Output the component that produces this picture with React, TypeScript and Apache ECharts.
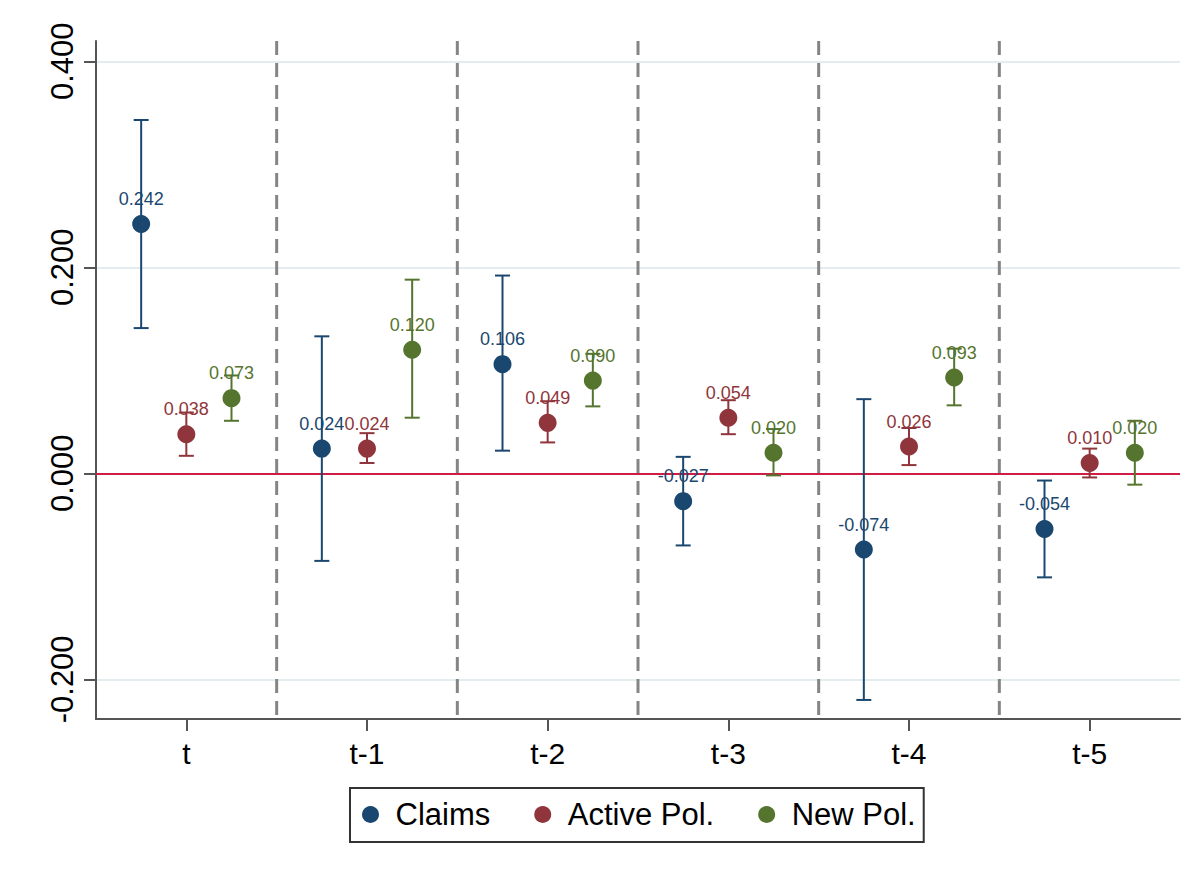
import React, { useEffect, useRef } from "react";
import * as echarts from "echarts";

const categories = ["t", "t-1", "t-2", "t-3", "t-4", "t-5"];
const yTicks = [-0.2, 0, 0.2, 0.4];

const claims = [0.242, 0.024, 0.106, -0.027, -0.074, -0.054];
const claimsLo = [0.141, -0.085, 0.022, -0.07, -0.22, -0.101];
const claimsHi = [0.343, 0.133, 0.192, 0.016, 0.072, -0.007];

const active = [0.038, 0.024, 0.049, 0.054, 0.026, 0.01];
const activeLo = [0.017, 0.01, 0.03, 0.038, 0.008, -0.004];
const activeHi = [0.059, 0.039, 0.07, 0.071, 0.044, 0.024];

const newPol = [0.073, 0.12, 0.09, 0.02, 0.093, 0.02];
const newLo = [0.051, 0.054, 0.065, -0.002, 0.066, -0.011];
const newHi = [0.095, 0.188, 0.116, 0.043, 0.121, 0.051];

const groups = [
  { name: "Claims", color: "#1a476f", offset: -0.25, v: claims, lo: claimsLo, hi: claimsHi },
  { name: "Active Pol.", color: "#90353b", offset: 0, v: active, lo: activeLo, hi: activeHi },
  { name: "New Pol.", color: "#55752f", offset: 0.25, v: newPol, lo: newLo, hi: newHi },
];

const FONT = "'Liberation Sans', Arial, sans-serif";

export default function App() {
  const ref = useRef<HTMLDivElement>(null);
  useEffect(() => {
    if (!ref.current) return;
    const chart = echarts.init(ref.current, undefined, { renderer: "svg" });

    const series: any[] = [];

    // dividers between categories
    series.push({
      type: "custom",
      name: "dividers",
      xAxisIndex: 1,
      z: 1,
      silent: true,
      data: categories.slice(1).map((_, i) => [i + 0.5, 0]),
      encode: { x: 0, y: 1 },
      renderItem: (params: any, api: any) => {
        const cs = params.coordSys;
        const x = api.coord([api.value(0), 0])[0];
        return {
          type: "line",
          shape: { x1: x, y1: cs.y, x2: x, y2: cs.y + cs.height },
          style: { stroke: "#858585", lineWidth: 3, lineDash: [14, 8] },
        };
      },
    });

    groups.forEach((g) => {
      series.push({
        type: "custom",
        name: g.name + " CI",
        xAxisIndex: 1,
        z: 3,
        silent: true,
        data: g.v.map((_, i) => [i + g.offset, g.lo[i], g.hi[i]]),
        encode: { x: 0, y: [1, 2] },
        renderItem: (params: any, api: any) => {
          const x = api.value(0);
          const pLo = api.coord([x, api.value(1)]);
          const pHi = api.coord([x, api.value(2)]);
          const hw = 7.5;
          const style = { stroke: g.color, lineWidth: 2 };
          return {
            type: "group",
            children: [
              { type: "line", shape: { x1: pLo[0], y1: pLo[1], x2: pHi[0], y2: pHi[1] }, style },
              { type: "line", shape: { x1: pHi[0] - hw, y1: pHi[1], x2: pHi[0] + hw, y2: pHi[1] }, style },
              { type: "line", shape: { x1: pLo[0] - hw, y1: pLo[1], x2: pLo[0] + hw, y2: pLo[1] }, style },
            ],
          };
        },
      });
    });

    groups.forEach((g, gi) => {
      const s: any = {
        type: "scatter",
        name: g.name,
        xAxisIndex: 1,
        z: 4,
        symbol: "circle",
        symbolSize: 18,
        itemStyle: { color: g.color, opacity: 1 },
        data: g.v.map((v, i) => [i + g.offset, v]),
        label: {
          show: true,
          position: "top",
          distance: 7,
          fontFamily: FONT,
          fontSize: 18,
          color: g.color,
          formatter: (p: any) => p.value[1].toFixed(3),
        },
      };
      if (gi === 0) {
        s.markLine = {
          silent: true,
          symbol: "none",
          label: { show: false },
          lineStyle: { color: "#d01c44", width: 2, type: "solid" },
          data: [{ yAxis: 0 }],
          z: 2,
        };
      }
      series.push(s);
    });

    chart.setOption({
      animation: false,
      backgroundColor: "#ffffff",
      grid: { left: 96, right: 23, top: 41, bottom: 159, containLabel: false },
      xAxis: [
        {
          type: "category",
          data: categories,
          boundaryGap: true,
          axisLine: { show: true, onZero: false, lineStyle: { color: "#555555", width: 2 } },
          axisTick: { show: true, alignWithLabel: true, length: 12, lineStyle: { color: "#555555", width: 2 } },
          axisLabel: { fontFamily: FONT, fontSize: 30, color: "#000000", margin: 19 },
          splitLine: { show: false },
        },
        {
          type: "value",
          min: -0.5,
          max: 5.5,
          show: false,
          axisLine: { onZero: false },
          splitLine: { show: false },
        },
      ],
      yAxis: {
        type: "value",
        min: -0.2385,
        max: 0.4197,
        axisLine: { show: true, onZero: false, lineStyle: { color: "#555555", width: 2 } },
        axisTick: { show: true, length: 12, customValues: yTicks, lineStyle: { color: "#555555", width: 2 } },
        axisLabel: {
          customValues: yTicks,
          rotate: 90,
          fontFamily: FONT,
          fontSize: 31,
          color: "#000000",
          margin: 18,
          formatter: (v: number) => v.toFixed(3),
        },
        splitLine: { show: true, lineStyle: { color: "#e3ecee", width: 2 } },
      },
      legend: {
        data: groups.map((g) => g.name),
        left: 350,
        top: 788,
        orient: "horizontal",
        icon: "circle",
        itemWidth: 40,
        itemHeight: 17,
        itemGap: 44,
        padding: [11, 8, 12, 12],
        borderColor: "#333333",
        borderWidth: 2,
        textStyle: { fontFamily: FONT, fontSize: 31, color: "#000000" },
        selectedMode: false,
      },
      series,
    });

    return () => chart.dispose();
  }, []);

  return <div ref={ref} style={{ width: 1203, height: 878, position: "absolute", left: 0, top: 0 }} />;
}
